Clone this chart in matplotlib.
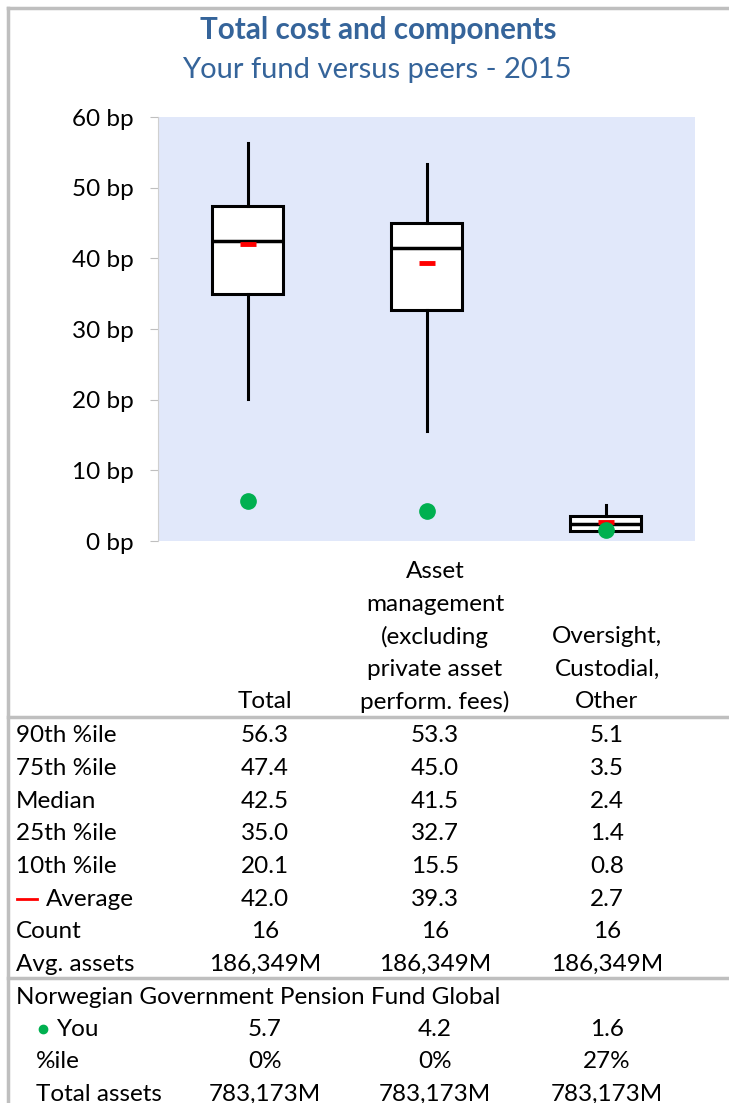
import matplotlib
matplotlib.use("Agg")
import matplotlib.pyplot as plt
from matplotlib.lines import Line2D

plt.rcParams['font.family'] = ['Lato', 'DejaVu Sans']

# data
categories = ["Total",
              "Asset\nmanagement\n(excluding\nprivate asset\nperform. fees)",
              "Oversight,\nCustodial,\nOther"]
p90 = [56.3, 53.3, 5.1]
p75 = [47.4, 45.0, 3.5]
median = [42.5, 41.5, 2.4]
p25 = [35.0, 32.7, 1.4]
p10 = [20.1, 15.5, 0.8]
average = [42.0, 39.3, 2.7]
count = [16, 16, 16]
avg_assets = ["186,349M", "186,349M", "186,349M"]
you = [5.7, 4.2, 1.6]
you_pctile = ["0%", "0%", "27%"]
total_assets = ["783,173M", "783,173M", "783,173M"]
fund_name = "Norwegian Government Pension Fund Global"
yticks = [0, 10, 20, 30, 40, 50, 60]

W, H = 729, 1103
fig = plt.figure(figsize=(W / 100, H / 100), dpi=100)

def fx(px):
    return px / W

def fy(py):
    return 1 - py / H

title_col = "#35649A"
grid_col = "#BFBFBF"
fs = 17.5

# outer border and table separators
fig.add_artist(Line2D([fx(8), fx(8)], [fy(8), fy(H + 5)], color=grid_col, lw=2.5))
fig.add_artist(Line2D([fx(8), fx(W)], [fy(8), fy(8)], color=grid_col, lw=2.5))
for yy in [717, 978]:
    fig.add_artist(Line2D([fx(8), fx(W)], [fy(yy), fy(yy)], color=grid_col, lw=2.5))

fig.text(fx(378), fy(30), "Total cost and components", ha="center", va="center",
         fontsize=21.3, fontweight="bold", color=title_col)
fig.text(fx(377), fy(70), "Your fund versus peers - 2015", ha="center", va="center",
         fontsize=21, color=title_col)

# plot area
ax = fig.add_axes([fx(158), fy(541), fx(695) - fx(158), (541 - 117) / H])
ax.set_facecolor("#E1E8FA")
x = [0, 1, 2]
stats = []
for i in range(3):
    stats.append(dict(whislo=p10[i], q1=p25[i], med=median[i], q3=p75[i],
                      whishi=p90[i], fliers=[]))
ax.bxp(stats, positions=x, widths=0.4, showcaps=False, patch_artist=True,
       boxprops=dict(facecolor="white", edgecolor="black", linewidth=2.2),
       medianprops=dict(color="black", linewidth=2.5),
       whiskerprops=dict(color="black", linewidth=2.2))
ax.plot(x, average, linestyle="none", marker="_", markersize=11, mew=3.5,
        color="red", zorder=5)
ax.plot(x, you, linestyle="none", marker="o", markersize=11, color="#00B050",
        zorder=6)
ax.set_xlim(-0.5, 2.5)
ax.set_ylim(0, 60)
ax.set_yticks(yticks)
ax.set_yticklabels([f"{v} bp" for v in yticks], fontsize=fs)
ax.set_xticks([])
for s in ["top", "right", "bottom"]:
    ax.spines[s].set_visible(False)
ax.spines["left"].set_color("#D0D0D0")
ax.tick_params(axis="y", length=5.5, color="#BFBFBF", pad=12)

# table
col_x = [265, 435, 607]
line_h = 32.6
for i, lab in enumerate(categories):
    lines = lab.split("\n")
    for j, ln in enumerate(reversed(lines)):
        fig.text(fx(col_x[i]), fy(702 - j * line_h), ln, ha="center", va="center", fontsize=fs)

rows = [
    ("90th %ile", [f"{v:.1f}" for v in p90]),
    ("75th %ile", [f"{v:.1f}" for v in p75]),
    ("Median", [f"{v:.1f}" for v in median]),
    ("25th %ile", [f"{v:.1f}" for v in p25]),
    ("10th %ile", [f"{v:.1f}" for v in p10]),
    ("Average", [f"{v:.1f}" for v in average]),
    ("Count", [str(v) for v in count]),
    ("Avg. assets", avg_assets),
]
for r, (lab, vals) in enumerate(rows):
    yy = 736 + r * line_h
    if lab == "Average":
        fig.add_artist(Line2D([fx(17), fx(37)], [fy(yy), fy(yy)], color="red", lw=2))
        fig.text(fx(46), fy(yy), lab, ha="left", va="center", fontsize=fs)
    else:
        fig.text(fx(16), fy(yy), lab, ha="left", va="center", fontsize=fs)
    for i, v in enumerate(vals):
        fig.text(fx(col_x[i]), fy(yy), v, ha="center", va="center", fontsize=fs)

fig.text(fx(16), fy(997), fund_name, ha="left", va="center", fontsize=fs)
rows2 = [
    ("You", [f"{v:.1f}" for v in you]),
    ("%ile", you_pctile),
    ("Total assets", total_assets),
]
for r, (lab, vals) in enumerate(rows2):
    yy = 1029 + r * line_h
    if lab == "You":
        fig.add_artist(Line2D([fx(43)], [fy(yy)], marker="o", markersize=6,
                              color="#00B050", linestyle="none"))
        fig.text(fx(57), fy(yy), lab, ha="left", va="center", fontsize=fs)
    else:
        fig.text(fx(36), fy(yy), lab, ha="left", va="center", fontsize=fs)
    for i, v in enumerate(vals):
        fig.text(fx(col_x[i]), fy(yy), v, ha="center", va="center", fontsize=fs)

fig.savefig("out.png", dpi=100, facecolor="white")
